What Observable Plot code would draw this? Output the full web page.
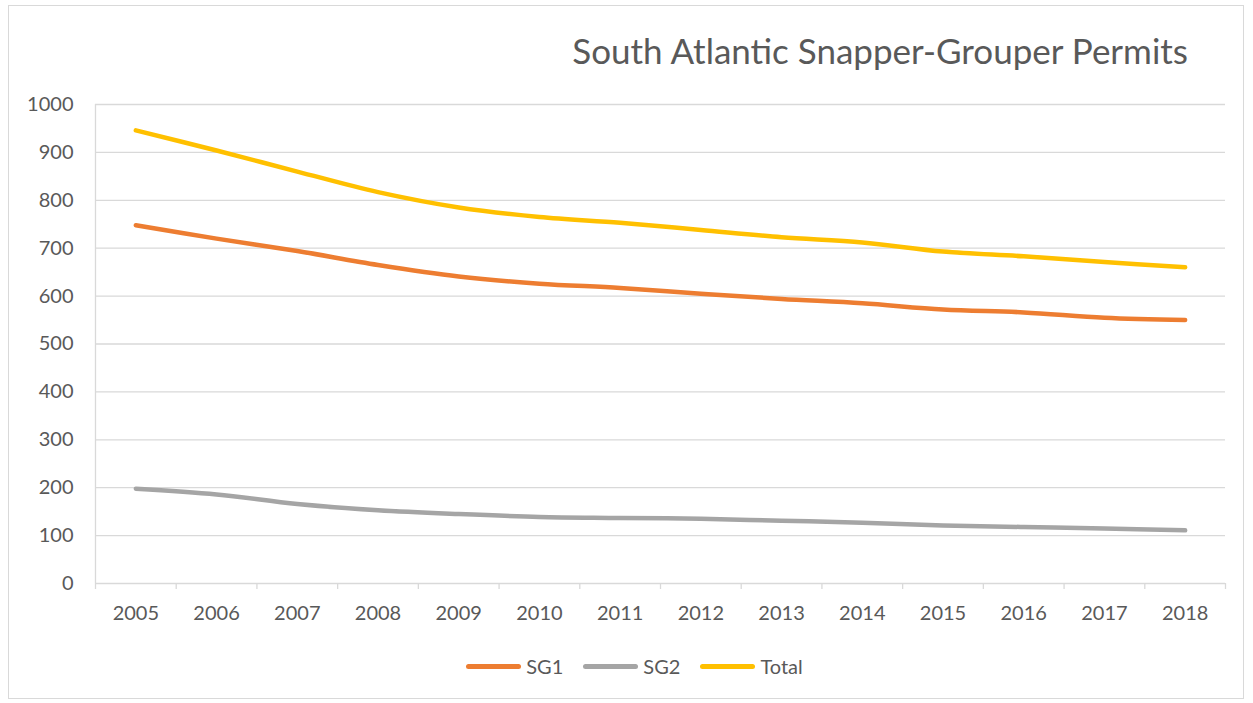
<!DOCTYPE html>
<html>
<head>
<meta charset="utf-8">
<script src="https://cdn.jsdelivr.net/npm/d3@7"></script>
<script src="https://cdn.jsdelivr.net/npm/@observablehq/plot@0.6"></script>
<style>
  html, body { margin: 0; padding: 0; background: #fff; }
  body { width: 1253px; height: 703px; position: relative; overflow: hidden; font-family: Lato, "Open Sans", sans-serif; }
  #frame { position: absolute; left: 8px; top: 5px; width: 1236px; height: 694px; border: 1px solid #d9d9d9; box-sizing: border-box; }
  #title { position: absolute; top: 33px; right: 65px; font-size: 35px; line-height: 35px; color: #595959; white-space: nowrap; }
  #chart { position: absolute; left: 0; top: 85px; }
  #legend { position: absolute; left: 0; width: 1253px; top: 654px; display: flex; justify-content: center; align-items: center; font-size: 20px; color: #595959; padding-left: 16px; box-sizing: border-box; }
  .item { display: flex; align-items: center; margin: 0 10px; }
  .sw { width: 55px; height: 5px; border-radius: 3px; margin-right: 5px; }
</style>
</head>
<body>
<div id="frame"></div>
<div id="title">South Atlantic Snapper-Grouper Permits</div>
<div id="chart"></div>
<div id="legend"></div>
<script>
const years = [2005, 2006, 2007, 2008, 2009, 2010, 2011, 2012, 2013, 2014, 2015, 2016, 2017, 2018];
const sg1 = [748, 720, 694, 665, 641, 626, 617, 605, 594, 585, 572, 566, 555, 550];
const sg2 = [198, 186, 166, 153, 145, 139, 137, 135, 131, 127, 121, 118, 115, 111];
const total = [946, 904, 860, 817, 785, 765, 753, 738, 723, 712, 693, 683, 671, 660];
const seriesNames = ["SG1", "SG2", "Total"];
const seriesColors = ["#ED7D31", "#A5A5A5", "#FFC000"];
const yTicks = [0, 100, 200, 300, 400, 500, 600, 700, 800, 900, 1000];

const seriesValues = [sg1, sg2, total];
const rows = [];
seriesNames.forEach((name, i) => {
  years.forEach((yr, j) => rows.push({series: name, year: yr, value: seriesValues[i][j]}));
});
const xMin = years[0] - 0.5, xMax = years[years.length - 1] + 0.5;
const boundaries = d3.range(xMin, xMax + 0.01, 1);

const chart = Plot.plot({
  width: 1253,
  height: 545,
  marginLeft: 95,
  marginRight: 28,
  marginTop: 19,
  marginBottom: 47,
  style: {fontFamily: "Lato, 'Open Sans', sans-serif", fontSize: "20px", color: "#595959", background: "transparent"},
  x: {domain: [xMin, xMax], axis: null, label: null},
  y: {domain: [0, 1000], axis: null, label: null},
  color: {domain: seriesNames, range: seriesColors},
  marks: [
    Plot.gridY(yTicks, {stroke: "#d9d9d9", strokeOpacity: 1, strokeWidth: 1.3}),
    Plot.ruleX([xMin], {stroke: "#d9d9d9", strokeWidth: 1.3}),
    Plot.axisY(yTicks, {tickSize: 0, tickPadding: 22, tickFormat: "d", label: null, fill: "#595959", fontSize: 20}),
    Plot.axisX(years, {tickSize: 0, tickPadding: 22, tickFormat: "d", label: null, fill: "#595959", fontSize: 20}),
    Plot.axisX(boundaries, {tickSize: 6, tickFormat: () => "", label: null, stroke: "#d9d9d9", strokeWidth: 1.3}),
    Plot.line(rows, {x: "year", y: "value", z: "series", stroke: "series", strokeWidth: 4.5, curve: "catmull-rom", strokeLinecap: "round", strokeLinejoin: "round"})
  ]
});
document.getElementById("chart").appendChild(chart);

const legend = document.getElementById("legend");
seriesNames.forEach((name, i) => {
  const item = document.createElement("div");
  item.className = "item";
  const sw = document.createElement("div");
  sw.className = "sw";
  sw.style.background = seriesColors[i];
  const label = document.createElement("span");
  label.textContent = name;
  item.appendChild(sw);
  item.appendChild(label);
  legend.appendChild(item);
});
</script>
</body>
</html>
